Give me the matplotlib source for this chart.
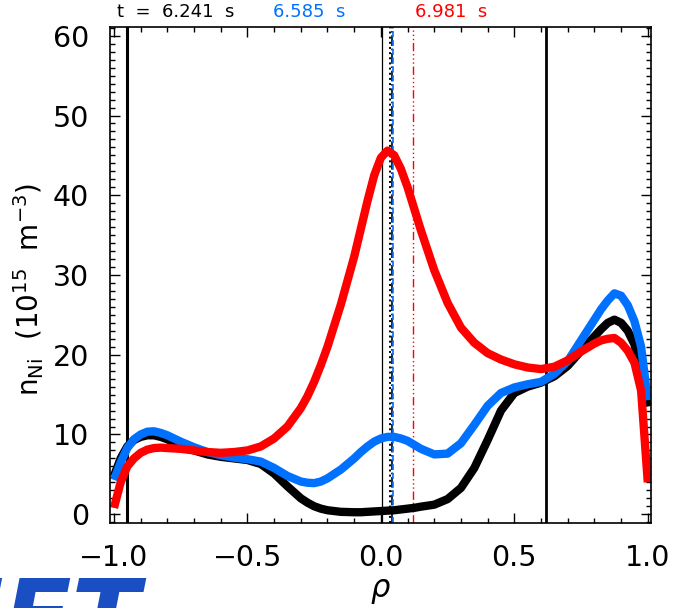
import matplotlib
matplotlib.use("Agg")
import matplotlib.pyplot as plt
from matplotlib.ticker import MultipleLocator

# radial grid and Ni density profiles (10^15 m^-3) at three times
rho = [-1.00, -0.975, -0.95, -0.925, -0.90, -0.875, -0.85, -0.825, -0.80, -0.75,
       -0.70, -0.65, -0.60, -0.55, -0.50, -0.45, -0.40, -0.35, -0.30, -0.275,
       -0.25, -0.225, -0.20, -0.15, -0.10, -0.075, -0.05, -0.025, 0.00, 0.025,
       0.05, 0.075, 0.10, 0.125, 0.15, 0.20, 0.25, 0.30, 0.35, 0.40,
       0.45, 0.50, 0.55, 0.60, 0.65, 0.70, 0.75, 0.80, 0.825, 0.85,
       0.875, 0.90, 0.925, 0.95, 0.975, 1.00]

n_6241 = [4.8, 7.0, 8.5, 9.3, 9.7, 9.9, 9.9, 9.7, 9.4, 8.6,
          8.0, 7.5, 7.2, 7.0, 6.8, 6.3, 5.1, 3.5, 2.0, 1.45,
          1.0, 0.7, 0.5, 0.3, 0.25, 0.25, 0.3, 0.35, 0.4, 0.45,
          0.5, 0.6, 0.7, 0.8, 0.95, 1.2, 1.9, 3.3, 5.8, 9.3,
          13.0, 15.2, 16.0, 16.5, 17.3, 18.6, 20.5, 22.3, 23.2, 24.0,
          24.4, 24.0, 23.0, 21.3, 18.0, 13.5]

n_6585 = [4.3, 6.5, 8.3, 9.4, 10.0, 10.35, 10.4, 10.2, 9.9, 9.1,
          8.4, 7.8, 7.4, 7.1, 6.9, 6.6, 5.8, 4.8, 4.1, 3.95,
          3.9, 4.1, 4.5, 5.6, 7.0, 7.8, 8.5, 9.1, 9.5, 9.7,
          9.7, 9.5, 9.2, 8.7, 8.2, 7.5, 7.6, 8.9, 11.2, 13.6,
          15.2, 15.9, 16.3, 16.6, 17.6, 19.2, 21.8, 24.4, 25.7, 26.8,
          27.7, 27.4, 26.2, 24.2, 21.0, 14.3]

n_6981 = [0.8, 4.0, 6.0, 7.0, 7.7, 8.1, 8.3, 8.35, 8.3, 8.2,
          8.0, 7.8, 7.7, 7.8, 8.0, 8.5, 9.5, 11.0, 13.3, 14.8,
          16.6, 18.7, 21.0, 26.3, 32.3, 35.8, 39.3, 42.5, 44.7, 45.6,
          45.0, 43.3, 41.0, 38.3, 35.6, 30.6, 26.5, 23.4, 21.5, 20.2,
          19.4, 18.8, 18.4, 18.2, 18.5, 19.3, 20.4, 21.4, 21.8, 22.0,
          22.1, 21.5, 20.5, 19.0, 15.5, 4.0]

times = ["6.241", "6.585", "6.981"]
colors = ["black", "#0070ff", "#ff0000"]

# vertical markers: (rho, colour, linestyle, width)
marks = [(-0.952, "black", "-", 2.2),
         (0.618, "black", "-", 2.0),
         (0.003, "black", "-", 0.9),
         (0.033, "black", ":", 1.4),
         (0.041, "black", "-.", 1.2),
         (0.045, "#0070ff", "--", 1.2),
         (0.119, "#ff0000", (0, (6, 2, 1, 2, 1, 2, 1, 2)), 1.0)]

fig = plt.figure(figsize=(6.73, 6.08), dpi=100)
ax = fig.add_axes([0.1634, 0.1398, 0.8039, 0.8158])

for x, c, ls, lw in marks:
    ax.axvline(x, color=c, linestyle=ls, linewidth=lw, zorder=1)

for prof, c in zip([n_6241, n_6585, n_6981], colors):
    ax.plot(rho, prof, color=c, linewidth=6, solid_joinstyle="round",
            solid_capstyle="butt", zorder=2)

ax.set_xlim(-1.015, 1.012)
ax.set_ylim(-1.1, 61.1)
ax.xaxis.set_major_locator(MultipleLocator(0.5))
ax.xaxis.set_minor_locator(MultipleLocator(0.1))
ax.yaxis.set_major_locator(MultipleLocator(10))
ax.yaxis.set_minor_locator(MultipleLocator(1))
ax.xaxis.set_major_formatter(plt.FuncFormatter(lambda v, p: f"{v:.1f}".replace("-", "\u2212")))
ax.tick_params(which="both", direction="in", top=True, right=True,
               labelsize=20.5, colors="black", width=1.0)
ax.tick_params(which="major", length=7)
ax.tick_params(which="minor", length=3.5)
ax.tick_params(axis="x", pad=15)
ax.tick_params(axis="y", pad=15)
for sp in ax.spines.values():
    sp.set_linewidth(1.2)

ax.set_xlabel(r"$\rho$", fontsize=22, labelpad=4)
ax.set_ylabel(r"n$_{\rm Ni}$  (10$^{15}$  m$^{-3}$)", fontsize=20)
ax.yaxis.set_label_coords(-0.118, 0.47)

# time stamps above the frame
fig.text(117 / 673, 0.981, "t  =  " + times[0] + "  s", color=colors[0],
         fontsize=13, ha="left", va="center")
fig.text(273 / 673, 0.981, times[1] + "  s", color=colors[1],
         fontsize=13, ha="left", va="center")
fig.text(415 / 673, 0.981, times[2] + "  s", color=colors[2],
         fontsize=13, ha="left", va="center")

# lab logo, cut by the lower edge
fig.text(-0.05, 33 / 608, "JET", color="#1a4fc4", fontsize=72,
         fontweight="bold", fontstyle="italic", ha="left", va="top")

fig.savefig("out.png", dpi=100)
